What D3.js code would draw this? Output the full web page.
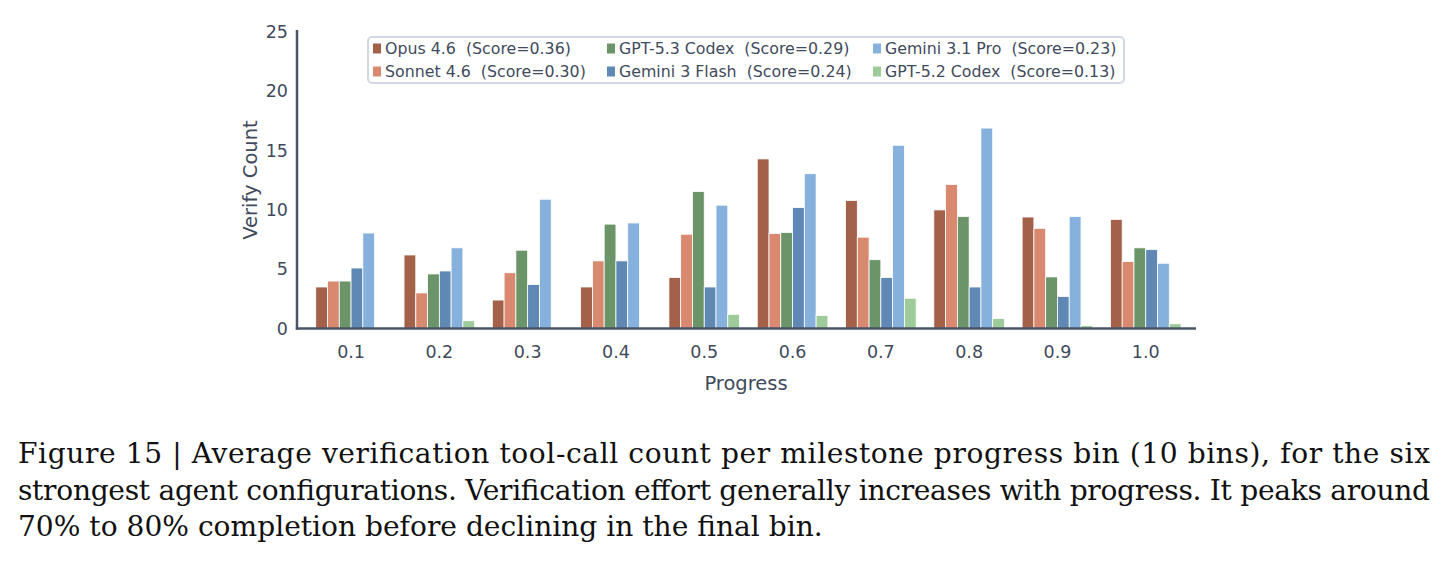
<!DOCTYPE html>
<html>
<head>
<meta charset="utf-8">
<script src="https://cdn.jsdelivr.net/npm/d3@7"></script>
<style>
  body { margin: 0; background: #fff; }
  svg text { font-family: "DejaVu Sans", sans-serif; }
</style>
</head>
<body>
<div id="chart"></div>
<script>
// data
const bins = ["0.1", "0.2", "0.3", "0.4", "0.5", "0.6", "0.7", "0.8", "0.9", "1.0"];
const models = ["Opus 4.6", "Sonnet 4.6", "GPT-5.3 Codex", "Gemini 3 Flash", "Gemini 3.1 Pro", "GPT-5.2 Codex"];
const scores = ["0.36", "0.30", "0.29", "0.24", "0.23", "0.13"];
const colors = ["#a3614a", "#d8896f", "#6b9468", "#5f88b5", "#86b1dc", "#9dcb9a"];
const opus = [3.5, 6.2, 2.4, 3.5, 4.3, 14.3, 10.8, 10.0, 9.4, 9.2];
const sonnet = [4.0, 3.0, 4.7, 5.7, 7.95, 8.0, 7.7, 12.15, 8.45, 5.65];
const gpt53 = [4.0, 4.6, 6.6, 8.8, 11.55, 8.1, 5.8, 9.45, 4.35, 6.8];
const flash = [5.1, 4.85, 3.7, 5.7, 3.5, 10.2, 4.3, 3.5, 2.7, 6.65];
const gemPro = [8.05, 6.8, 10.9, 8.9, 10.4, 13.05, 15.45, 16.9, 9.45, 5.5];
const gpt52 = [0, 0.65, 0, 0, 1.2, 1.1, 2.55, 0.85, 0.25, 0.4];
const yTicks = [0, 5, 10, 15, 20, 25];

const series = [opus, sonnet, gpt53, flash, gemPro, gpt52];
const axisColor = "#4b5568";
const textColor = "#3f4a5c";

const svg = d3.select("#chart").append("svg")
    .attr("width", 1444)
    .attr("height", 563);

// scales
let x = d3.scaleBand()
    .domain(bins)
    .range([306.9, 1189.9]);
let xs = d3.scaleBand()
    .domain(models)
    .range([0, x.bandwidth() * 0.8]);
let y = d3.scaleLinear()
    .domain([0, 25])
    .range([328.5, 32]);

const groupOffset = x.bandwidth() * 0.1;

// bars
models.forEach(function (m, si) {
    svg.append("g").selectAll("rect")
        .data(series[si])
        .enter().append("rect")
        .attr("x", function (d, i) { return x(bins[i]) + groupOffset + xs(m); })
        .attr("width", xs.bandwidth())
        .attr("y", function (d) { return y(d); })
        .attr("height", function (d) { return y(0) - y(d); })
        .attr("fill", colors[si])
        .attr("stroke", "#ffffff")
        .attr("stroke-width", 0.8);
});

// y axis
let yAxis = svg.append("g")
    .attr("transform", "translate(297,0)")
    .call(d3.axisLeft(y).tickValues(yTicks).tickSize(0).tickPadding(9));
yAxis.select(".domain").remove();
yAxis.selectAll("text").attr("fill", textColor).attr("font-size", 17.5);

// x axis
let xAxis = svg.append("g")
    .attr("transform", "translate(0,328.5)")
    .call(d3.axisBottom(x).tickSize(0).tickPadding(17));
xAxis.select(".domain").remove();
xAxis.selectAll("text").attr("fill", textColor).attr("font-size", 17.5);

// spines
svg.append("line")
    .attr("x1", 297).attr("x2", 297)
    .attr("y1", 30).attr("y2", 329.7)
    .attr("stroke", axisColor).attr("stroke-width", 2.5);
svg.append("line")
    .attr("x1", 295.8).attr("x2", 1196)
    .attr("y1", 328.5).attr("y2", 328.5)
    .attr("stroke", axisColor).attr("stroke-width", 2.5);

// axis titles
svg.append("text")
    .attr("transform", "translate(257,180) rotate(-90)")
    .attr("text-anchor", "middle")
    .attr("font-size", 19.5)
    .attr("fill", textColor)
    .text("Verify Count");
svg.append("text")
    .attr("x", 746).attr("y", 390)
    .attr("text-anchor", "middle")
    .attr("font-size", 19.5)
    .attr("fill", textColor)
    .text("Progress");

// legend
svg.append("rect")
    .attr("x", 368).attr("y", 37)
    .attr("width", 756).attr("height", 46)
    .attr("rx", 4)
    .attr("fill", "#ffffff")
    .attr("stroke", "#d3d9e2")
    .attr("stroke-width", 2);

const legCols = [373, 607, 873];
models.forEach(function (m, i) {
    let col = Math.floor(i / 2), row = i % 2;
    let g = svg.append("g")
        .attr("transform", "translate(" + legCols[col] + "," + (48.5 + row * 23) + ")");
    g.append("rect")
        .attr("x", 0).attr("y", -5)
        .attr("width", 8).attr("height", 10)
        .attr("fill", colors[i]);
    g.append("text")
        .attr("x", 12).attr("y", 5.5)
        .attr("font-size", 15.8)
        .attr("fill", textColor)
        .style("white-space", "pre")
        .text(m + "  (Score=" + scores[i] + ")");
});

// caption
const caption = [
    "Figure 15 | Average verification tool-call count per milestone progress bin (10 bins), for the six",
    "strongest agent configurations. Verification effort generally increases with progress. It peaks around",
    "70% to 80% completion before declining in the final bin."
];
caption.forEach(function (line, i) {
    let t = svg.append("text")
        .attr("x", 18).attr("y", 463 + i * 36.5)
        .attr("font-size", 28.1)
        .attr("fill", "#111")
        .style("font-family", "'DejaVu Serif', serif")
        .text(line);
    if (i < 2) {
        t.attr("textLength", 1412).attr("lengthAdjust", "spacing");
    }
});
</script>
</body>
</html>
